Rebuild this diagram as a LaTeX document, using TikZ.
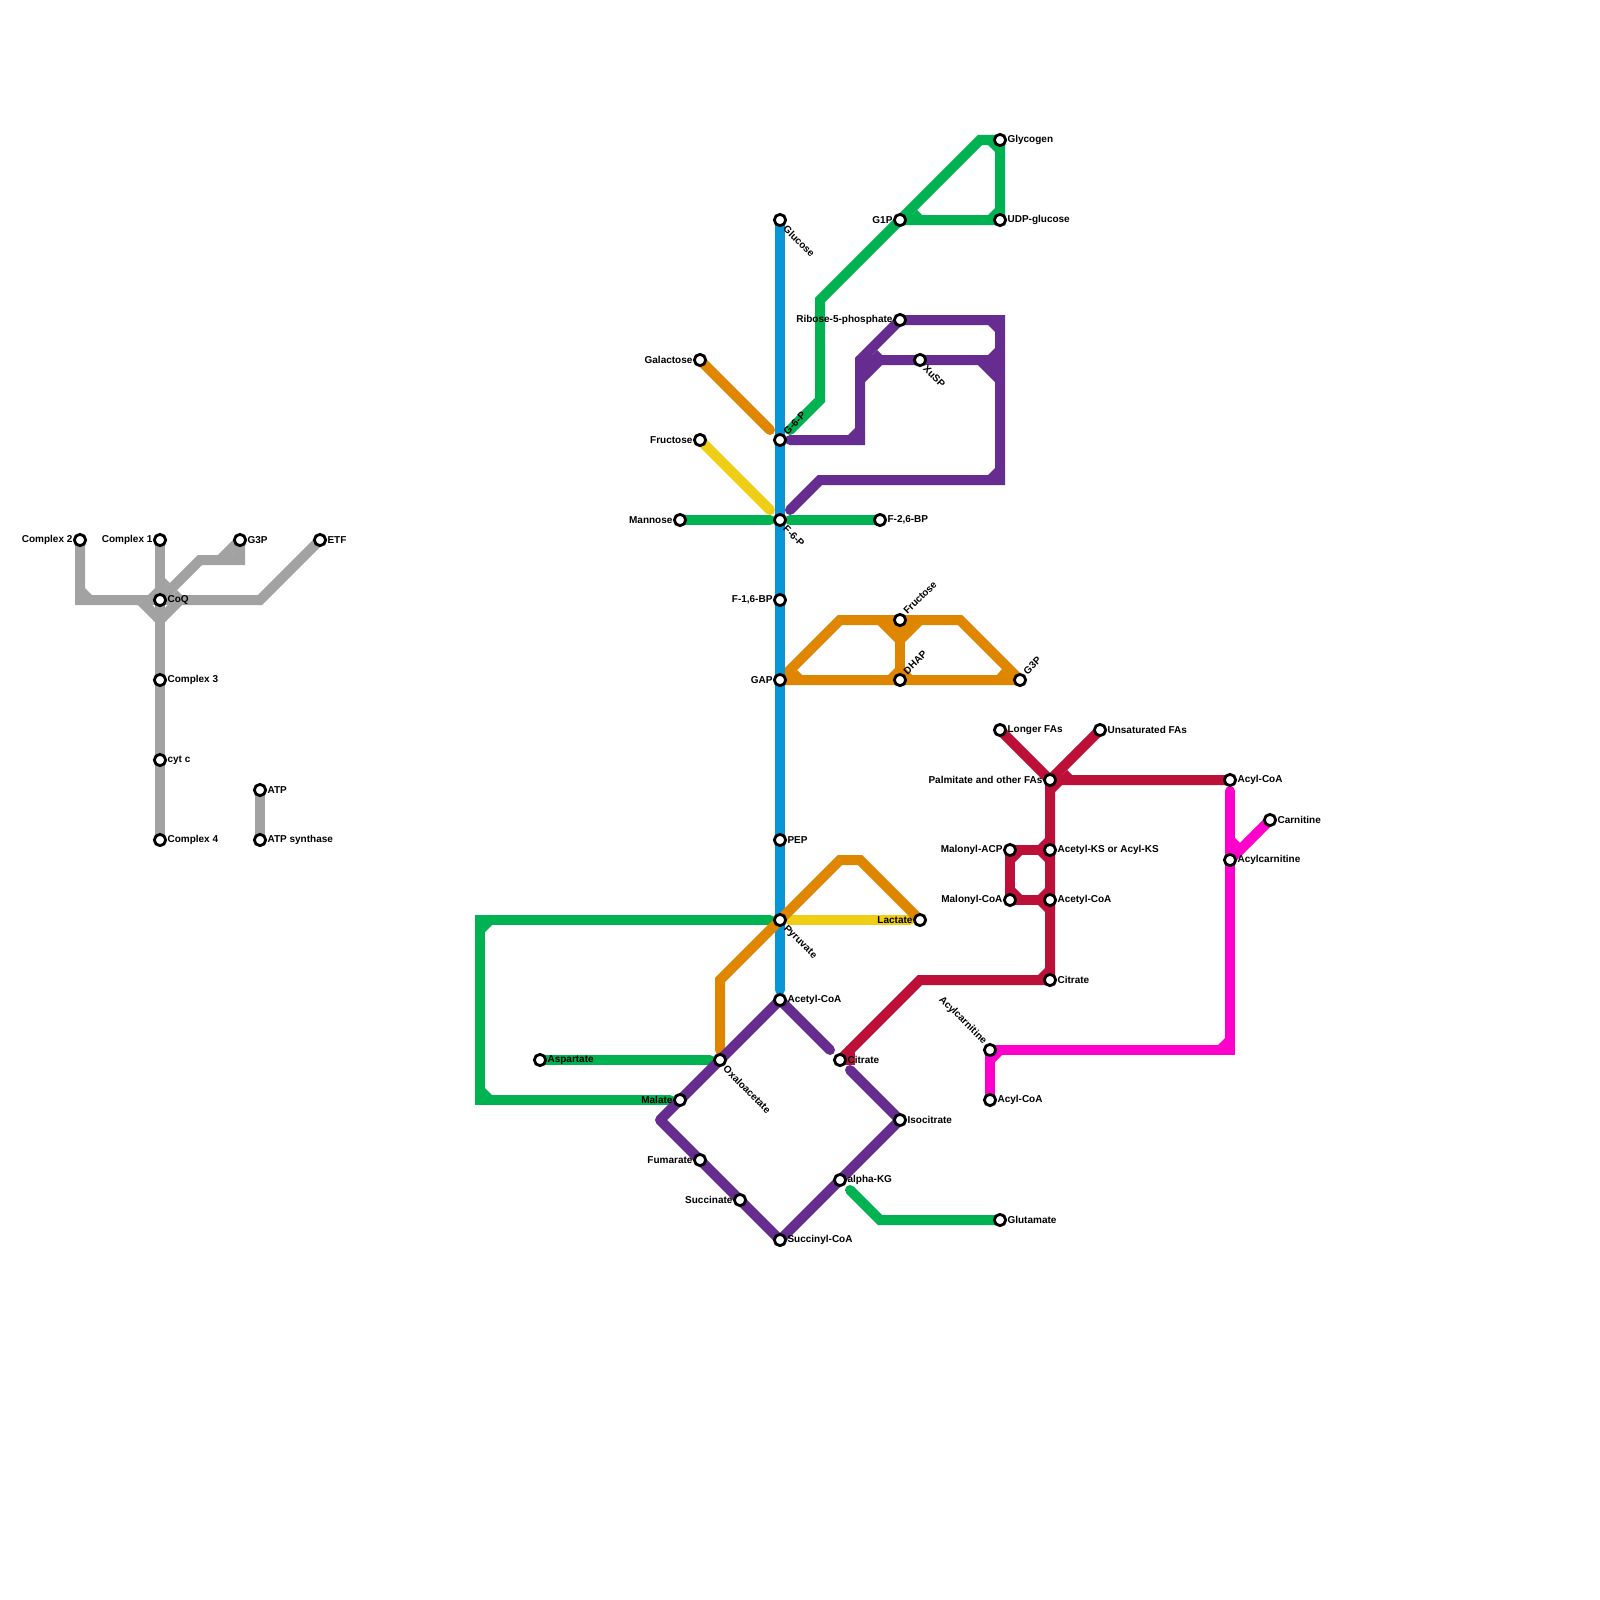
\documentclass[tikz,border=0pt]{standalone}
\usepackage{fontspec}
\setmainfont{Liberation Sans}
\usetikzlibrary{backgrounds}
\definecolor{ngray}{HTML}{A2A2A2}
\definecolor{nblue}{HTML}{0896D7}
\definecolor{ngreen}{HTML}{00B251}
\definecolor{norange}{HTML}{DF8600}
\definecolor{npurple}{HTML}{662C90}
\definecolor{nyellow}{HTML}{F0CE15}
\definecolor{ncrimson}{HTML}{BD1038}
\definecolor{nmagenta}{HTML}{FF00CC}
\tikzset{
  station/.style={circle, draw=black, fill=white, line width=2.8pt, minimum size=11.3pt, inner sep=0pt},
  lbl/.style={font=\fontsize{10}{12}\selectfont\bfseries, inner sep=0pt, text=black},
  side/.style={lbl},
  down/.style={lbl, rotate=-45, anchor=west, xshift=1.4pt, yshift=-1.4pt},
  up/.style={lbl, rotate=45, anchor=west, xshift=1.4pt, yshift=1.4pt},
  metro/.style={line width=10pt, line cap=round, line join=miter},
  label distance=0.3pt,
}
\begin{document}
\begin{tikzpicture}[x=1pt, y=-1pt]
\useasboundingbox (0,0) rectangle (1600,1600);
% electron transport
\node[station, label={[side]left:Complex 2}] (cii) at (80,540) {};
\node[station, label={[side]left:Complex 1}] (ci) at (160,540) {};
\node[station, label={[side]right:G3P}] (gtp) at (240,540) {};
\node[station, label={[side]right:ETF}] (etf) at (320,540) {};
\node[station, label={[side]right:CoQ}] (coq) at (160,600) {};
\node[station, label={[side]right:Complex 3}] (ciii) at (160,680) {};
\node[station, label={[side]right:cyt c}] (cytc) at (160,760) {};
\node[station, label={[side]right:Complex 4}] (civ) at (160,840) {};
\node[station, label={[side]right:ATP}] (atp) at (260,790) {};
\node[station, label={[side]right:ATP synthase}] (atps) at (260,840) {};
% glycolysis
\node[station, label={[down]-45:Glucose}] (glc) at (780,220) {};
\node[station, label={[up]45:G-6-P}] (gsp) at (780,440) {};
\node[station, label={[down]-45:F-6-P}] (fsp) at (780,520) {};
\node[station, label={[side]left:F-1,6-BP}] (fbp) at (780,600) {};
\node[station, label={[side]left:GAP}] (gap) at (780,680) {};
\node[station, label={[side]right:PEP}] (pep) at (780,840) {};
\node[station, label={[down]-45:Pyruvate}] (pyr) at (780,920) {};
\node[station, label={[side]right:Acetyl-CoA}] (accoa) at (780,1000) {};
\node[station, label={[side]left:Galactose}] (gal) at (700,360) {};
\node[station, label={[side]left:Fructose}] (fru) at (700,440) {};
\node[station, label={[side]left:Mannose}] (man) at (680,520) {};
\node[station, label={[side]right:F-2,6-BP}] (ftbp) at (880,520) {};
\node[station, label={[up]45:Fructose}] (frub) at (900,620) {};
\node[station, label={[up]45:DHAP}] (dhap) at (900,680) {};
\node[station, label={[up]45:G3P}] (gtpb) at (1020,680) {};
\node[station, label={[side]left:Lactate}] (lac) at (920,920) {};
% glycogen and pentose phosphate
\node[station, label={[side]left:G1P}] (gop) at (900,220) {};
\node[station, label={[side]right:Glycogen}] (gly) at (1000,140) {};
\node[station, label={[side]right:UDP-glucose}] (udp) at (1000,220) {};
\node[station, label={[side]left:Ribose-5-phosphate}] (rib) at (900,320) {};
\node[station, label={[down]-45:XuSP}] (xu) at (920,360) {};
% TCA cycle
\node[station, label={[side]right:Aspartate}] (asp) at (540,1060) {};
\node[station, label={[down]-45:Oxaloacetate}] (oaa) at (720,1060) {};
\node[station, label={[side]left:Malate}] (mal) at (680,1100) {};
\node[station, label={[side]left:Fumarate}] (fum) at (700,1160) {};
\node[station, label={[side]left:Succinate}] (suc) at (740,1200) {};
\node[station, label={[side]right:Succinyl-CoA}] (sca) at (780,1240) {};
\node[station, label={[side]right:alpha-KG}] (akg) at (840,1180) {};
\node[station, label={[side]right:Isocitrate}] (ict) at (900,1120) {};
\node[station, label={[side]right:Citrate}] (cit) at (840,1060) {};
\node[station, label={[side]right:Glutamate}] (glu) at (1000,1220) {};
% fatty acids
\node[station, label={[side]right:Citrate}] (citb) at (1050,980) {};
\node[station, label={[side]right:Acetyl-CoA}] (accob) at (1050,900) {};
\node[station, label={[side]right:Acetyl-KS or Acyl-KS}] (aks) at (1050,850) {};
\node[station, label={[side]left:Malonyl-CoA}] (mco) at (1010,900) {};
\node[station, label={[side]left:Malonyl-ACP}] (mac) at (1010,850) {};
\node[station, label={[side]left:Palmitate and other FAs}] (pal) at (1050,780) {};
\node[station, label={[side]right:Longer FAs}] (lfa) at (1000,730) {};
\node[station, label={[side]right:Unsaturated FAs}] (ufa) at (1100,730) {};
\node[station, label={[side]right:Acyl-CoA}] (aca) at (1230,780) {};
\node[station, label={[side]right:Acylcarnitine}] (acn) at (1230,860) {};
\node[station, label={[side]right:Carnitine}] (car) at (1270,820) {};
\node[station, label={[lbl,rotate=-45,anchor=east,xshift=-1.4pt,yshift=1.4pt]135:Acylcarnitine}] (acnb) at (990,1050) {};
\node[station, label={[side]right:Acyl-CoA}] (acab) at (990,1100) {};
% bends and free ends
\coordinate (g1) at (80,600); \coordinate (g2) at (260,600); \coordinate (g3) at (200,560);
\coordinate (g4) at (240,560); \coordinate (g5) at (220,560); \coordinate (g6) at (140,600);
\coordinate (g7) at (160,620); \coordinate (g8) at (180,600);
\coordinate (b1) at (780,990);
\coordinate (v1) at (790,430); \coordinate (v2) at (820,400); \coordinate (v3) at (820,300);
\coordinate (v4) at (980,140); \coordinate (v5) at (770,520); \coordinate (v6) at (790,520);
\coordinate (v7) at (770,920); \coordinate (v8) at (480,920); \coordinate (v9) at (480,1100);
\coordinate (v10) at (670,1100); \coordinate (v11) at (710,1060); \coordinate (v12) at (850,1190);
\coordinate (v13) at (880,1220);
\coordinate (y1) at (770,510); \coordinate (y2) at (790,920); \coordinate (y3) at (910,920);
\coordinate (o1) at (770,430); \coordinate (o2) at (790,680); \coordinate (o3) at (790,670);
\coordinate (o4) at (840,620); \coordinate (o5) at (960,620); \coordinate (o6) at (880,620);
\coordinate (o7) at (900,640); \coordinate (o8) at (920,620); \coordinate (o9) at (720,1050);
\coordinate (o10) at (720,980); \coordinate (o11) at (840,860); \coordinate (o12) at (860,860);
\coordinate (p1) at (790,440); \coordinate (p2) at (860,440); \coordinate (p3) at (860,360);
\coordinate (p4) at (1000,320); \coordinate (p5) at (1000,480); \coordinate (p6) at (820,480);
\coordinate (p7) at (790,510); \coordinate (p8) at (860,380); \coordinate (p9) at (880,360);
\coordinate (p10) at (1000,360); \coordinate (p11) at (980,360); \coordinate (p12) at (1000,380);
\coordinate (p13) at (660,1120); \coordinate (p14) at (850,1070); \coordinate (p15) at (830,1050);
\coordinate (r1) at (850,1060); \coordinate (r2) at (850,1050); \coordinate (r3) at (920,980);
\coordinate (m1) at (1230,791); \coordinate (m2) at (1230,1050);
\begin{scope}[on background layer]
% grey
\draw[metro, ngray] (cii.center) -- (g1) -- (g2) -- (etf.center);
\draw[metro, ngray] (ci.center) -- (civ.center);
\draw[metro, ngray] (coq.center) -- (g3) -- (g4) -- (gtp.center);
\draw[metro, ngray] (g5) -- (gtp.center);
\draw[metro, ngray] (g6) -- (g7) -- (g8);
\draw[metro, ngray] (atp.center) -- (atps.center);
\fill[ngray] (85,588) -- (92,595) -- (85,595) -- cycle;
\fill[ngray] (155,588) -- (148,595) -- (155,595) -- cycle;
\fill[ngray] (165,578) -- (170,583) -- (165,588) -- cycle;
\fill[ngray] (172,595) -- (177,590) -- (182,595) -- cycle;
\fill[ngray] (232,555) -- (235,552) -- (235,555) -- cycle;
% blue
\draw[metro, nblue] (glc.center) -- (b1);
% green
\draw[metro, ngreen] (v1) -- (v2) -- (v3) -- (gop.center) -- (v4) -- (gly.center) -- (udp.center) -- (gop.center);
\draw[metro, ngreen] (man.center) -- (v5);
\draw[metro, ngreen] (v6) -- (ftbp.center);
\draw[metro, ngreen] (v7) -- (v8) -- (v9) -- (v10);
\draw[metro, ngreen] (asp.center) -- (v11);
\draw[metro, ngreen] (v12) -- (v13) -- (glu.center);
\fill[ngreen] (917,210) -- (922,215) -- (912,215) -- cycle;
\fill[ngreen] (988,145) -- (995,152) -- (995,145) -- cycle;
\fill[ngreen] (995,208) -- (988,215) -- (995,215) -- cycle;
\fill[ngreen] (485,932) -- (492,925) -- (485,925) -- cycle;
\fill[ngreen] (485,1088) -- (492,1095) -- (485,1095) -- cycle;
% yellow
\draw[metro, nyellow] (fru.center) -- (y1);
\draw[metro, nyellow] (y2) -- (y3);
% orange
\draw[metro, norange] (gal.center) -- (o1);
\draw[metro, norange] (gtpb.center) -- (o2) -- (o3) -- (o4) -- (o5) -- (gtpb.center);
\draw[metro, norange] (o6) -- (o7) -- (o8);
\draw[metro, norange] (o7) -- (dhap.center);
\draw[metro, norange] (o9) -- (o10) -- (o11) -- (o12) -- (lac.center);
\fill[norange] (o6) -- (o7) -- (o8) -- cycle;
\fill[norange] (792,675) -- (797,670) -- (802,675) -- cycle;
\fill[norange] (1008,675) -- (1002,669) -- (997,675) -- cycle;
\fill[norange] (895,668) -- (888,675) -- (895,675) -- cycle;
\fill[norange] (905,668) -- (912,675) -- (905,675) -- cycle;
% purple
\draw[metro, npurple] (p1) -- (p2) -- (p3) -- (rib.center) -- (p4) -- (p5) -- (p6) -- (p7);
\draw[metro, npurple] (p8) -- (p9) -- (p10);
\draw[metro, npurple] (p3) -- (p9);
\draw[metro, npurple] (p11) -- (p12);
\draw[metro, npurple, line join=round] (accoa.center) -- (p13) -- (sca.center) -- (ict.center) -- (p14);
\draw[metro, npurple] (accoa.center) -- (p15);
\fill[npurple] (p3) -- (p9) -- (p8) -- cycle;
\fill[npurple] (p11) -- (p10) -- (p12) -- cycle;
\fill[npurple] (855,428) -- (848,435) -- (855,435) -- cycle;
\fill[npurple] (872,355) -- (877,350) -- (882,355) -- cycle;
\fill[npurple] (995,348) -- (988,355) -- (995,355) -- cycle;
\fill[npurple] (988,325) -- (995,332) -- (995,325) -- cycle;
\fill[npurple] (988,475) -- (995,468) -- (995,475) -- cycle;
% crimson
\draw[metro, ncrimson] (cit.center) -- (r3) -- (citb.center) -- (pal.center) -- (aca.center);
\draw[metro, ncrimson] (cit.center) -- (r1) -- (r2);
\draw[metro, ncrimson] (lfa.center) -- (pal.center) -- (ufa.center);
\draw[metro, ncrimson] (aks.center) -- (mac.center) -- (mco.center) -- (accob.center);
\fill[ncrimson] (1062,775) -- (1067,770) -- (1072,775) -- cycle;
\fill[ncrimson] (1055,785) -- (1062,785) -- (1055,792) -- cycle;
\fill[ncrimson] (1045,838) -- (1038,845) -- (1045,845) -- cycle;
\fill[ncrimson] (1038,855) -- (1045,862) -- (1045,855) -- cycle;
\fill[ncrimson] (1022,855) -- (1015,862) -- (1015,855) -- cycle;
\fill[ncrimson] (1015,888) -- (1022,895) -- (1015,895) -- cycle;
\fill[ncrimson] (1038,895) -- (1045,888) -- (1045,895) -- cycle;
\fill[ncrimson] (1038,905) -- (1045,912) -- (1045,905) -- cycle;
\fill[ncrimson] (1045,968) -- (1038,975) -- (1045,975) -- cycle;
% magenta
\draw[metro, nmagenta] (m1) -- (m2) -- (acnb.center) -- (acab.center);
\draw[metro, nmagenta] (car.center) -- (acn.center);
\fill[nmagenta] (1235,838) -- (1240,843) -- (1235,848) -- cycle;
\fill[nmagenta] (1218,1045) -- (1225,1038) -- (1225,1045) -- cycle;
\fill[nmagenta] (995,1062) -- (1002,1055) -- (995,1055) -- cycle;
\end{scope}
\end{tikzpicture}
\end{document}
